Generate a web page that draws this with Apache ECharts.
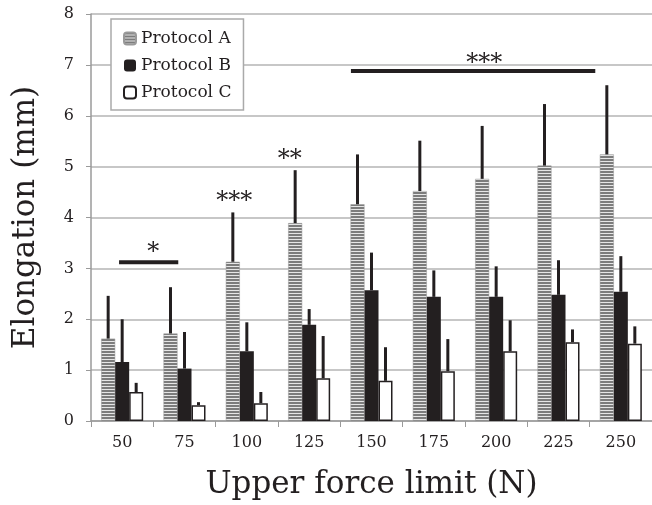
<!DOCTYPE html>
<html>
<head>
<meta charset="utf-8">
<script src="https://cdn.jsdelivr.net/npm/echarts@6/dist/echarts.min.js"></script>
<style>
html,body{margin:0;padding:0;background:#fff;}
#main{width:652px;height:505px;}
</style>
</head>
<body>
<div id="main"></div>
<script>
'use strict';
// data
var categories = ['50', '75', '100', '125', '150', '175', '200', '225', '250'];
var protA = [1.62, 1.72, 3.13, 3.89, 4.26, 4.52, 4.76, 5.02, 5.24];
var protAErr = [2.46, 2.63, 4.1, 4.93, 5.24, 5.51, 5.8, 6.23, 6.6];
var protB = [1.16, 1.03, 1.37, 1.89, 2.57, 2.44, 2.44, 2.48, 2.54];
var protBErr = [2.0, 1.75, 1.94, 2.2, 3.31, 2.96, 3.04, 3.16, 3.24];
var protC = [0.57, 0.31, 0.35, 0.84, 0.79, 0.98, 1.37, 1.55, 1.52];
var protCErr = [0.75, 0.37, 0.57, 1.67, 1.45, 1.61, 1.98, 1.8, 1.86];
var yTicks = [0, 1, 2, 3, 4, 5, 6, 7, 8];
// significance bars: [from, to, value] in category units
var sigLines = [[-0.05, 0.9, 3.12], [3.67, 7.59, 6.88]];
// significance stars: [x, value, text]
var sigStars = [[0.5, 3.3, '*'], [1.8, 4.3, '***'], [2.69, 5.14, '**'], [5.81, 7.02, '***']];

var FONT = 'DejaVu Serif';
var INK = '#231f20';

window.onload = function () {
	// striped fill for protocol A
	var cv = document.createElement('canvas');
	cv.width = 4;
	cv.height = 3;
	var ctx = cv.getContext('2d');
	ctx.fillStyle = '#e6e6e6';
	ctx.fillRect(0, 0, 4, 3);
	ctx.fillStyle = '#7c7c7c';
	ctx.fillRect(0, 0, 4, 2);

	var barW = 14;
	var errData = [];
	for (var i = 0; i < categories.length; i++) {
		errData.push([i, protA[i], protAErr[i], -1]);
		errData.push([i, protB[i], protBErr[i], 0]);
		errData.push([i, protC[i], protCErr[i], 1]);
	}

	var myChart = echarts.init(document.getElementById('main'));
	var option = {
		animation: false,
		grid: {left: 91, right: 0, top: 14, bottom: 84, containLabel: false},
		legend: {
			data: ['Protocol A', 'Protocol B', 'Protocol C'],
			orient: 'vertical',
			left: 111, top: 19,
			padding: [11, 12, 9, 12],
			itemWidth: 12, itemHeight: 12, itemGap: 10,
			borderColor: '#aaaaaa', borderWidth: 1.5,
			backgroundColor: '#fff',
			textStyle: {fontFamily: FONT, fontSize: 17, color: INK}
		},
		xAxis: [{
			type: 'category',
			data: categories,
			axisLine: {lineStyle: {color: '#9a9a9a', width: 1.5}},
			axisTick: {show: true, length: 6, lineStyle: {color: '#9a9a9a'}},
			axisLabel: {fontFamily: FONT, fontSize: 16, color: INK, margin: 14},
			name: 'Upper force limit (N)',
			nameLocation: 'middle',
			nameGap: 48,
			nameTextStyle: {fontFamily: FONT, fontSize: 31, color: INK}
		}, {
			type: 'value', min: -0.5, max: 8.5, show: false
		}],
		yAxis: {
			type: 'value', min: 0, max: 8, interval: 1,
			axisLine: {show: true, onZero: false, lineStyle: {color: '#9a9a9a', width: 1.5}},
			axisTick: {show: true, length: 5, lineStyle: {color: '#9a9a9a'}},
			axisLabel: {fontFamily: FONT, fontSize: 16, color: INK, margin: 17,
				formatter: function (v) { return yTicks.indexOf(v) >= 0 ? String(v) : ''; }},
			splitLine: {lineStyle: {color: '#b4b4b4', width: 1.5}},
			name: 'Elongation (mm)',
			nameLocation: 'middle',
			nameGap: 50,
			nameTextStyle: {fontFamily: FONT, fontSize: 31, color: INK}
		},
		series: [{
			name: 'Protocol A', type: 'bar', data: protA,
			barWidth: barW, barGap: '0%',
			itemStyle: {color: {image: cv, repeat: 'repeat'}, borderColor: '#9a9a9a', borderWidth: 0.5}
		}, {
			name: 'Protocol B', type: 'bar', data: protB,
			barWidth: barW, barGap: '0%',
			itemStyle: {color: INK}
		}, {
			name: 'Protocol C', type: 'bar', data: protC,
			barWidth: barW, barGap: '0%',
			itemStyle: {color: '#fff', borderColor: INK, borderWidth: 1.5}
		}, {
			// upper error bars
			type: 'custom', z: 3,
			data: errData,
			renderItem: function (params, api) {
				var lo = api.coord([api.value(0), api.value(1)]);
				var hi = api.coord([api.value(0), api.value(2)]);
				var x = lo[0] + api.value(3) * barW;
				return {
					type: 'line',
					shape: {x1: x, y1: lo[1], x2: x, y2: hi[1]},
					style: {stroke: INK, lineWidth: 3}
				};
			}
		}, {
			// significance bars
			type: 'custom', xAxisIndex: 1, z: 4,
			data: sigLines,
			renderItem: function (params, api) {
				var a = api.coord([api.value(0), api.value(2)]);
				var b = api.coord([api.value(1), api.value(2)]);
				return {
					type: 'line',
					shape: {x1: a[0], y1: a[1], x2: b[0], y2: b[1]},
					style: {stroke: INK, lineWidth: 4}
				};
			}
		}, {
			// significance stars
			type: 'custom', xAxisIndex: 1, z: 4,
			data: sigStars,
			renderItem: function (params, api) {
				var p = api.coord([api.value(0), api.value(1)]);
				return {
					type: 'text',
					x: p[0], y: p[1],
					style: {
						text: sigStars[params.dataIndex][2],
						fontFamily: FONT, fontSize: 24, fill: INK,
						align: 'center', verticalAlign: 'middle'
					}
				};
			}
		}]
	};
	myChart.setOption(option);
};
</script>
</body>
</html>
